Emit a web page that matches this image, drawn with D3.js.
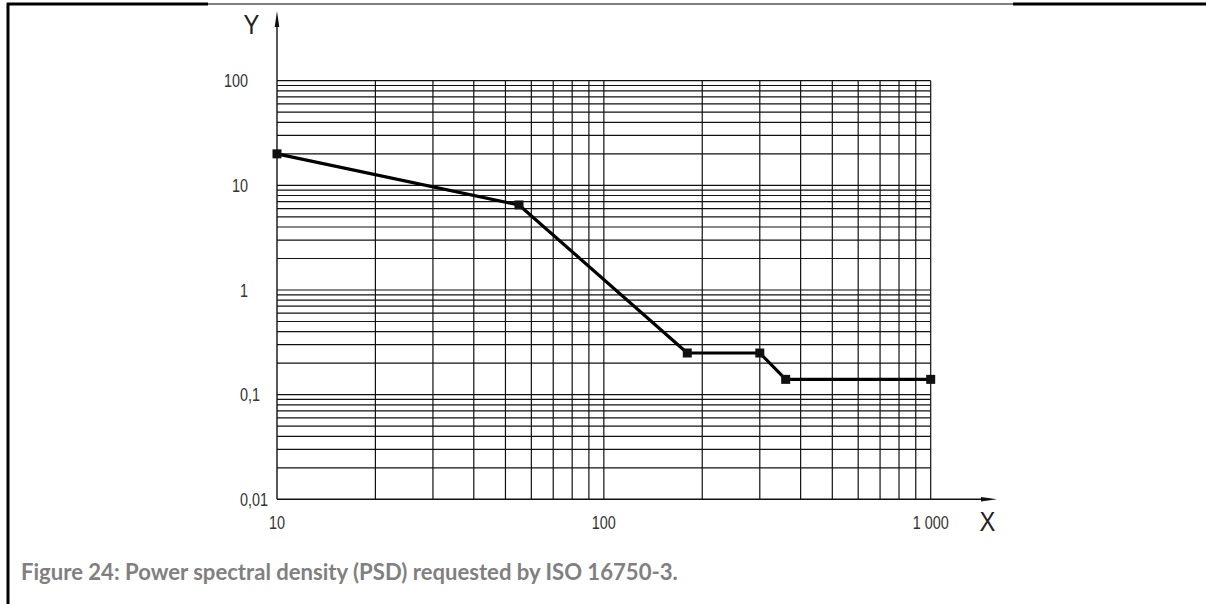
<!DOCTYPE html>
<html>
<head>
<meta charset="utf-8">
<script src="https://cdn.jsdelivr.net/npm/d3@7"></script>
<style>
  html, body { margin: 0; padding: 0; background: #fff; }
  svg { display: block; }
</style>
</head>
<body>
<svg id="chart" width="1206" height="604"></svg>
<script>
// ---- data ----
const freqHz = [10, 55, 180, 300, 360, 1000];
const psdValues = [20, 6.5, 0.25, 0.25, 0.14, 0.14];
const xTickValues = [10, 100, 1000];
const xTickLabels = ["10", "100", "1 000"];
const yTickValues = [100, 10, 1, 0.1, 0.01];
const yTickLabels = ["100", "10", "1", "0,1", "0,01"];
const xAxisName = "X";
const yAxisName = "Y";
const captionText = "Figure 24: Power spectral density (PSD) requested by ISO 16750-3.";

// ---- layout ----
const svg = d3.select("#chart");
const x = d3.scaleLog().domain([10, 1000]).range([277, 930.7]);
const y = d3.scaleLog().domain([0.01, 100]).range([499.3, 80.7]);

// page frame
svg.append("line").attr("x1", 8).attr("x2", 8).attr("y1", 3).attr("y2", 604)
  .attr("stroke", "#000").attr("stroke-width", 3);
svg.append("line").attr("x1", 7).attr("x2", 208).attr("y1", 4).attr("y2", 4)
  .attr("stroke", "#000").attr("stroke-width", 3);
svg.append("line").attr("x1", 208).attr("x2", 1013).attr("y1", 4).attr("y2", 4)
  .attr("stroke", "#000").attr("stroke-width", 1);
svg.append("line").attr("x1", 1013).attr("x2", 1206).attr("y1", 4).attr("y2", 4)
  .attr("stroke", "#000").attr("stroke-width", 3);

// grid
const gridColor = "#111";
const xGrid = [];
for (let d = 10; d < 1000; d *= 10) for (let k = 1; k < 10; k++) xGrid.push(d * k);
xGrid.push(1000);
const yGrid = [];
for (let d = 0.01; d < 99; d *= 10) for (let k = 1; k < 10; k++) yGrid.push(+(d * k).toPrecision(3));
yGrid.push(100);

const g = svg.append("g");
g.selectAll("line.vg").data(xGrid.filter(v => v > 10)).join("line")
  .attr("class", "vg")
  .attr("x1", d => x(d)).attr("x2", d => x(d))
  .attr("y1", y(100)).attr("y2", y(0.01))
  .attr("stroke", gridColor).attr("stroke-width", 1.2);
g.selectAll("line.hg").data(yGrid.filter(v => v > 0.01)).join("line")
  .attr("class", "hg")
  .attr("x1", x(10)).attr("x2", x(1000))
  .attr("y1", d => y(d)).attr("y2", d => y(d))
  .attr("stroke", gridColor).attr("stroke-width", 1.2);

// axes with arrows
const axisColor = "#111";
svg.append("line").attr("x1", x(10)).attr("x2", x(10)).attr("y1", y(0.01)).attr("y2", 20)
  .attr("stroke", axisColor).attr("stroke-width", 1.4);
svg.append("path").attr("d", `M${x(10)},11 L${x(10) - 2.3},27 L${x(10) + 2.3},27 Z`).attr("fill", axisColor);
svg.append("line").attr("x1", x(10)).attr("x2", 990).attr("y1", y(0.01)).attr("y2", y(0.01))
  .attr("stroke", axisColor).attr("stroke-width", 1.4);
svg.append("path").attr("d", `M997,${y(0.01)} L981,${y(0.01) - 2.3} L981,${y(0.01) + 2.3} Z`).attr("fill", axisColor);

// tick labels (condensed drawing-style lettering)
const tickFont = "'Liberation Sans', Arial, sans-serif";
const squeeze = 0.8;
svg.selectAll("text.yt").data(yTickValues).join("text")
  .attr("class", "yt")
  .attr("transform", d => `translate(${d < 1 ? 240 : 248},${y(d) + 6.5}) scale(${squeeze},1)`)
  .attr("text-anchor", d => d < 1 ? "start" : "end")
  .attr("font-family", tickFont).attr("font-size", 18).attr("fill", "#333")
  .text((d, i) => yTickLabels[i]);
svg.selectAll("text.xt").data(xTickValues).join("text")
  .attr("class", "xt")
  .attr("transform", d => `translate(${x(d)},528.5) scale(${squeeze},1)`)
  .attr("text-anchor", "middle")
  .attr("font-family", tickFont).attr("font-size", 18).attr("fill", "#333")
  .text((d, i) => xTickLabels[i]);

// axis names
svg.append("text").attr("transform", "translate(251.5,33.5) scale(0.85,1)").attr("text-anchor", "middle")
  .attr("font-family", tickFont).attr("font-size", 28).attr("fill", "#222").text(yAxisName);
svg.append("text").attr("transform", "translate(987.5,530.5) scale(0.85,1)").attr("text-anchor", "middle")
  .attr("font-family", tickFont).attr("font-size", 28).attr("fill", "#222").text(xAxisName);

// data line
const line = d3.line().x((d, i) => x(freqHz[i])).y((d, i) => y(psdValues[i]));
svg.append("path").datum(psdValues).attr("d", line)
  .attr("fill", "none").attr("stroke", "#000").attr("stroke-width", 3.2)
  .attr("stroke-linejoin", "round");
svg.selectAll("rect.pt").data(psdValues).join("rect")
  .attr("class", "pt")
  .attr("x", (d, i) => x(freqHz[i]) - 4.5)
  .attr("y", d => y(d) - 4.5)
  .attr("width", 9).attr("height", 9)
  .attr("fill", "#111");

// caption
const cap = svg.append("text").attr("x", 21).attr("y", 580)
  .attr("font-family", "Lato, 'Open Sans', sans-serif").attr("font-weight", 700)
  .attr("font-size", 18).attr("fill", "#808080").text(captionText);
const w = cap.node().getComputedTextLength();
cap.attr("font-size", 18 * 657 / w);
</script>
</body>
</html>
